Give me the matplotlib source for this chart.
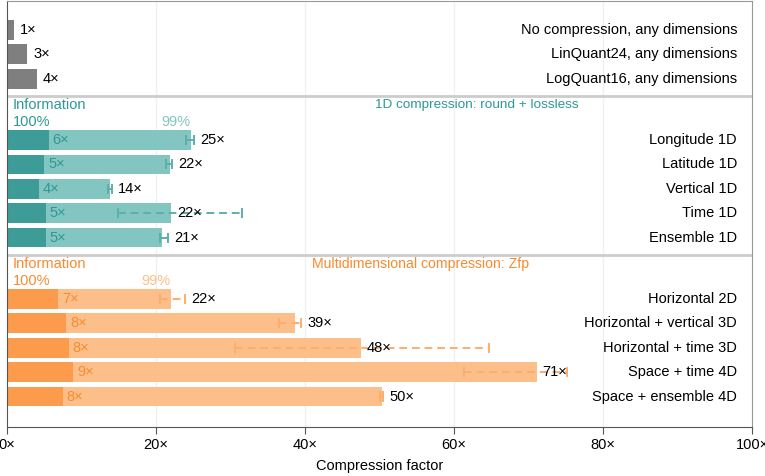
import numpy as np
import matplotlib.pyplot as plt

plt.rcParams['font.family'] = ['Liberation Sans', 'DejaVu Sans']

# ---- data ----
base_names = ["No compression, any dimensions", "LinQuant24, any dimensions",
              "LogQuant16, any dimensions"]
base_vals = [1.0, 2.7, 4.0]
base_labels = ["1×", "3×", "4×"]

oned_names = ["Longitude 1D", "Latitude 1D", "Vertical 1D", "Time 1D", "Ensemble 1D"]
oned_full = [5.6, 5.0, 4.3, 5.2, 5.2]          # 100% information
oned_99 = [24.7, 21.9, 13.8, 22.0, 20.8]       # 99% information
oned_lo = [24.1, 21.3, 13.6, 14.9, 20.5]
oned_hi = [25.1, 22.2, 14.1, 31.5, 21.6]
oned_full_lab = ["6×", "5×", "4×", "5×", "5×"]
oned_99_lab = ["25×", "22×", "14×", "22×", "21×"]

multi_names = ["Horizontal 2D", "Horizontal + vertical 3D", "Horizontal + time 3D",
               "Space + time 4D", "Space + ensemble 4D"]
multi_full = [6.9, 8.0, 8.3, 8.9, 7.5]
multi_99 = [22.0, 38.7, 47.5, 71.1, 50.3]
multi_lo = [20.6, 36.5, 30.6, 61.3, 50.1]
multi_hi = [23.9, 39.5, 64.7, 75.2, 50.5]
multi_full_lab = ["7×", "8×", "8×", "9×", "8×"]
multi_99_lab = ["22×", "39×", "48×", "71×", "50×"]

gray = "#7f7f7f"
teal_dark, teal_light, teal_txt, teal_err = "#3d9c98", "#82c5c1", "#2e9893", "#5bb0ab"
or_dark, or_light, or_txt, or_err = "#fc9b4c", "#fdbf89", "#f98a30", "#fbae6e"

fs = 10.5
fig = plt.figure(figsize=(7.65, 4.76), dpi=100)
ax = fig.add_axes([0.009, 0.103, 0.974, 0.895])

y_base = np.arange(3)
y_1d = 4.5 + np.arange(5)
y_multi = 11.0 + np.arange(5)
h = 0.8


def px(n):
    # horizontal offset of n pixels in data units
    return n / 7.45


# uncompressed / quantised rows
ax.barh(y_base, base_vals, height=h, color=gray)
for y, v, lab in zip(y_base, base_vals, base_labels):
    ax.text(v + px(6), y, lab, va="center", ha="left", fontsize=fs)
for y, n in zip(y_base, base_names):
    ax.text(98, y, n, va="center", ha="right", fontsize=fs)


def group(ys, full, v99, lo, hi, flab, lab99, names, dark, light, txt, err,
          title, title_x, title_fs):
    ax.barh(ys, v99, height=h, color=light)
    ax.barh(ys, full, height=h, color=dark)
    for y, f, v, l, u, fl, vl, n in zip(ys, full, v99, lo, hi, flab, lab99, names):
        ax.plot([l, u], [y, y], color=err, lw=1.4, ls=(0, (4, 2.5)))
        ax.plot([l, l], [y - 0.17, y + 0.17], color=err, lw=1.4)
        ax.plot([u, u], [y - 0.17, y + 0.17], color=err, lw=1.4)
        ax.text(f + px(4), y, fl, va="center", ha="left", fontsize=fs, color=txt)
        anchor = u if u - v < 3 else v
        ax.text(anchor + px(6), y, vl, va="center", ha="left", fontsize=fs)
        ax.text(98, y, n, va="center", ha="right", fontsize=fs)
    top = ys[0]
    ax.text(px(6), top - 1.42, "Information", va="center", ha="left", fontsize=fs, color=txt)
    ax.text(px(6), top - 0.72, "100%", va="center", ha="left", fontsize=fs, color=txt)
    ax.text(v99[0], top - 0.72, "99%", va="center", ha="right", fontsize=fs, color=light)
    ax.text(title_x, top - 1.42, title, va="center", ha="left", fontsize=title_fs, color=txt)
    ax.axhline(top - 1.78, color="#cccccc", lw=2, zorder=0)


group(y_1d, oned_full, oned_99, oned_lo, oned_hi, oned_full_lab, oned_99_lab,
      oned_names, teal_dark, teal_light, teal_txt, teal_err,
      "1D compression: round + lossless", 49.4, 9.7)
group(y_multi, multi_full, multi_99, multi_lo, multi_hi, multi_full_lab, multi_99_lab,
      multi_names, or_dark, or_light, or_txt, or_err,
      "Multidimensional compression: Zfp", 40.9, 10.1)

for x in [20, 40, 60, 80]:
    ax.axvline(x, color="#f0f0f0", lw=1, zorder=-1)

ax.set_xlim(0, 100)
ax.set_ylim(16.24, -1.18)
ax.set_yticks([])
ax.set_xticks([0, 20, 40, 60, 80, 100])
ax.set_xticklabels(["0×", "20×", "40×", "60×", "80×", "100×"], fontsize=fs)
ax.tick_params(axis="x", length=5, color="#555555", pad=3)
ax.set_xlabel("Compression factor", fontsize=fs, labelpad=5)
for s in ["top", "right"]:
    ax.spines[s].set_color("#999999")
for s in ["left", "bottom"]:
    ax.spines[s].set_color("#555555")

fig.savefig("out.png", dpi=100)
